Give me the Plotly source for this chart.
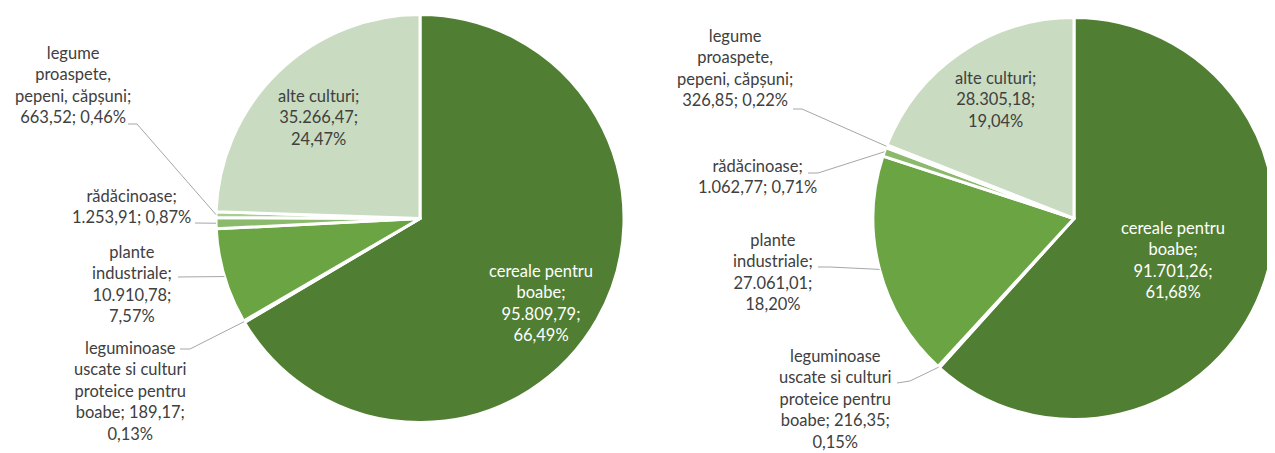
import math
import plotly.graph_objects as go

# the page body has an 8px margin, so the figure is drawn 8px in from the corner
OFF = 8
W, H = 1275 - OFF, 453 - OFF

# Data
categories = ["cereale pentru boabe", "leguminoase uscate si culturi proteice pentru boabe",
              "plante industriale", "rădăcinoase", "legume proaspete, pepeni, căpșuni",
              "alte culturi"]
values_left = [95809.79, 189.17, 10910.78, 1253.91, 663.52, 35266.47]
values_right = [91701.26, 216.35, 27061.01, 1062.77, 326.85, 28305.18]
labels_left = [
    "cereale pentru<br>boabe;<br>95.809,79;<br>66,49%",
    "leguminoase<br>uscate si culturi<br>proteice pentru<br>boabe; 189,17;<br>0,13%",
    "plante<br>industriale;<br>10.910,78;<br>7,57%",
    "rădăcinoase;<br>1.253,91; 0,87%",
    "legume<br>proaspete,<br>pepeni, căpșuni;<br>663,52; 0,46%",
    "alte culturi;<br>35.266,47;<br>24,47%",
]
labels_right = [
    "cereale pentru<br>boabe;<br>91.701,26;<br>61,68%",
    "leguminoase<br>uscate si culturi<br>proteice pentru<br>boabe; 216,35;<br>0,15%",
    "plante<br>industriale;<br>27.061,01;<br>18,20%",
    "rădăcinoase;<br>1.062,77; 0,71%",
    "legume<br>proaspete,<br>pepeni, căpșuni;<br>326,85; 0,22%",
    "alte culturi;<br>28.305,18;<br>19,04%",
]
colors = ["#507E32", "#5E9439", "#6AA443", "#8CBA6C", "#A9CF8F", "#C9DBC0"]

# Layout (page pixels)
pies = [
    dict(vals=values_left, labels=labels_left, cx=420, cy=218.5, r=204,
         pos=[(541, 303), (130, 391), (132, 284), (131, 206), (73, 85), (318, 118)],
         elbows=[None, [(180, 349), (190, 349)], [(178, 277)], [(195, 223)],
                 [(128, 124), (137, 124)], None]),
    dict(vals=values_right, labels=labels_right, cx=1074, cy=218.5, r=201,
         pos=[(1173, 260), (836, 399), (773, 272), (757, 176), (735, 68), (995, 99)],
         elbows=[None, [(897, 383), (910, 381)], [(818, 267), (830, 267)],
                 [(808, 173), (818, 173)], [(793, 109), (802, 109)], None]),
]

def px(x, y):
    return (x - OFF) / W, 1 - (y - OFF) / H

fig = go.Figure()
annotations = []
shapes = []
for p in pies:
    x0, y0 = px(p["cx"] - p["r"], p["cy"] + p["r"])
    x1, y1 = px(p["cx"] + p["r"], p["cy"] - p["r"])
    fig.add_trace(go.Pie(
        values=p["vals"], labels=categories, sort=False, direction="clockwise",
        rotation=0, textinfo="none", hoverinfo="label+value+percent",
        marker=dict(colors=colors, line=dict(color="white", width=3)),
        domain=dict(x=[max(x0, 0), min(x1, 1)], y=[y0, y1]),
        showlegend=False,
    ))
    total = sum(p["vals"])
    cum = 0
    for i, v in enumerate(p["vals"]):
        mid = (cum + v / 2) / total * 2 * math.pi
        cum += v
        tx, ty = p["pos"][i]
        col = "white" if i == 0 else "#404040"
        ax, ay = px(tx, ty)
        annotations.append(dict(x=ax, y=ay, xref="paper", yref="paper", text=p["labels"][i],
                                showarrow=False, xanchor="center", yanchor="middle",
                                font=dict(family="Lato", size=16.5, color=col)))
        if p["elbows"][i]:
            sx = p["cx"] + p["r"] * math.sin(mid)
            sy = p["cy"] - p["r"] * math.cos(mid)
            pts = p["elbows"][i] + [(sx, sy)]
            for (a, b), (c, d) in zip(pts[:-1], pts[1:]):
                u0, v0 = px(a, b)
                u1, v1 = px(c, d)
                shapes.append(dict(type="line", xref="paper", yref="paper",
                                   x0=u0, y0=v0, x1=u1, y1=v1,
                                   line=dict(color="#A6A6A6", width=1)))

fig.update_layout(width=W, height=H, margin=dict(l=0, r=0, t=0, b=0),
                  paper_bgcolor="white", plot_bgcolor="white",
                  annotations=annotations, shapes=shapes)
fig.write_html("out.html")
